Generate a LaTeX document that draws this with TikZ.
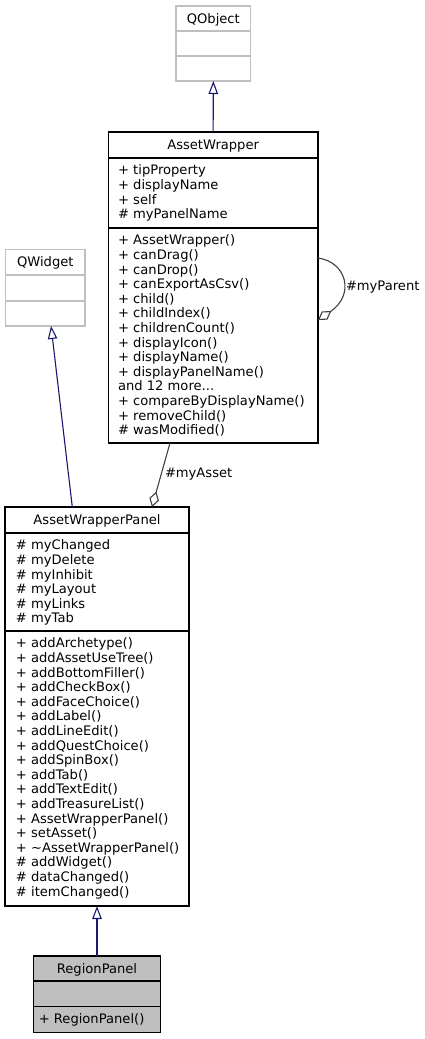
\documentclass[tikz,border=0pt]{standalone}
\usepackage{fontspec}
\setmainfont{DejaVu Sans}
\usetikzlibrary{arrows.meta}
\definecolor{gray75}{HTML}{BFBFBF}
\definecolor{gray25}{HTML}{404040}
\definecolor{mblue}{HTML}{191970}
\tikzset{
  umlbox/.style={draw=black, line width=1.1pt, fill=white, inner sep=0pt, outer sep=0pt, anchor=north west},
  extbox/.style={umlbox, draw=gray75},
  curbox/.style={umlbox, fill=gray75},
  divline/.style={draw=black, line width=1.1pt},
  extdiv/.style={draw=gray75, line width=1.1pt},
  txt/.style={inner sep=0pt, outer sep=0pt, anchor=base west, font=\fontsize{13.1}{14.6}\selectfont, text=black},
  ttl/.style={txt, anchor=base},
  inherit/.style={draw=mblue, line width=1.1pt, -{Triangle[open, length=13pt, width=9.5pt, fill=white]}},
  assoc/.style={draw=gray25, line width=1.1pt, -{Diamond[open, length=16pt, width=10pt, fill=white]}},
}
\begin{document}
\begin{tikzpicture}[x=1pt,y=-1pt]
\fill[white] (0,0) rectangle (425,1039);
\useasboundingbox (0,0) rectangle (425,1039);

% QObject
\node[extbox, minimum width=74.7pt, minimum height=75pt] (qobject) at (176,6) {};
\draw[extdiv] (qobject.west |- 0,31) -- (qobject.east |- 0,31);
\draw[extdiv] (qobject.west |- 0,56) -- (qobject.east |- 0,56);
\node[ttl] (qobjectT) at (213.3,23.3) {QObject};

% AssetWrapper
\node[umlbox, minimum width=209.7pt, minimum height=311pt] (aw) at (108.3,132) {};
\draw[divline] (aw.west |- 0,158) -- (aw.east |- 0,158);
\draw[divline] (aw.west |- 0,228) -- (aw.east |- 0,228);
\node[ttl] (awT) at (213.15,149.3) {AssetWrapper};
\foreach \t [count=\i from 0] in {+ tipProperty, + displayName, + self, \# myPanelName}
  \node[txt] (awa\i) at (118.1,174.8+\i*14.6) {\t};
\foreach \t [count=\i from 0] in {+ AssetWrapper(), + canDrag(), + canDrop(), + canExportAsCsv(), + child(), + childIndex(), + childrenCount(), + displayIcon(), + displayName(), + displayPanelName(), {and 12 more.{}.{}.}, + compareByDisplayName(), + removeChild(), \# wasModified()}
  \node[txt] (awm\i) at (118.1,244.8+\i*14.6) {\t};

% QWidget
\node[extbox, minimum width=79.3pt, minimum height=76.7pt] (qwidget) at (5.7,249.3) {};
\draw[extdiv] (qwidget.west |- 0,275) -- (qwidget.east |- 0,275);
\draw[extdiv] (qwidget.west |- 0,301) -- (qwidget.east |- 0,301);
\node[ttl] (qwidgetT) at (45.3,266.6) {QWidget};

% AssetWrapperPanel
\node[umlbox, minimum width=184pt, minimum height=399pt] (awp) at (5,507) {};
\draw[divline] (awp.west |- 0,533) -- (awp.east |- 0,533);
\draw[divline] (awp.west |- 0,631) -- (awp.east |- 0,631);
\node[ttl] (awpT) at (97,524.3) {AssetWrapperPanel};
\foreach \t [count=\i from 0] in {\# myChanged, \# myDelete, \# myInhibit, \# myLayout, \# myLinks, \# myTab}
  \node[txt] (awpa\i) at (16,549.8+\i*14.6) {\t};
\foreach \t [count=\i from 0] in {+ addArchetype(), + addAssetUseTree(), + addBottomFiller(), + addCheckBox(), + addFaceChoice(), + addLabel(), + addLineEdit(), + addQuestChoice(), + addSpinBox(), + addTab(), + addTextEdit(), + addTreasureList(), + AssetWrapperPanel(), + setAsset(), + \textasciitilde AssetWrapperPanel(), \# addWidget(), \# dataChanged(), \# itemChanged()}
  \node[txt] (awpm\i) at (16,647.8+\i*14.6) {\t};

% RegionPanel
\node[curbox, minimum width=127.4pt, minimum height=76.7pt] (rp) at (33.3,956) {};
\draw[divline] (rp.west |- 0,981) -- (rp.east |- 0,981);
\draw[divline] (rp.west |- 0,1006.7) -- (rp.east |- 0,1006.7);
\node[ttl] (rpT) at (97,973.3) {RegionPanel};
\node[txt] (rpm0) at (38.8,1023) {+ RegionPanel()};

% inheritance
\draw[inherit] (aw.north) -- (qobject.south);
\draw[inherit] ([xshift=-24.7pt]awp.north) -- ([xshift=5.7pt]qwidget.south);
\draw[inherit] (rp.north) -- (awp.south);

% associations
\draw[assoc] ([xshift=-43.15pt]aw.south) -- ([xshift=55pt]awp.north);
\node[txt] (lblAsset) at (165,477.6) {\#myAsset};
\draw[assoc] ([yshift=29.5pt]aw.east) .. controls (347,262) and (355,295) .. ([yshift=-32.5pt]aw.east);
\node[txt] (lblParent) at (346,290.7) {\#myParent};
\end{tikzpicture}
\end{document}
